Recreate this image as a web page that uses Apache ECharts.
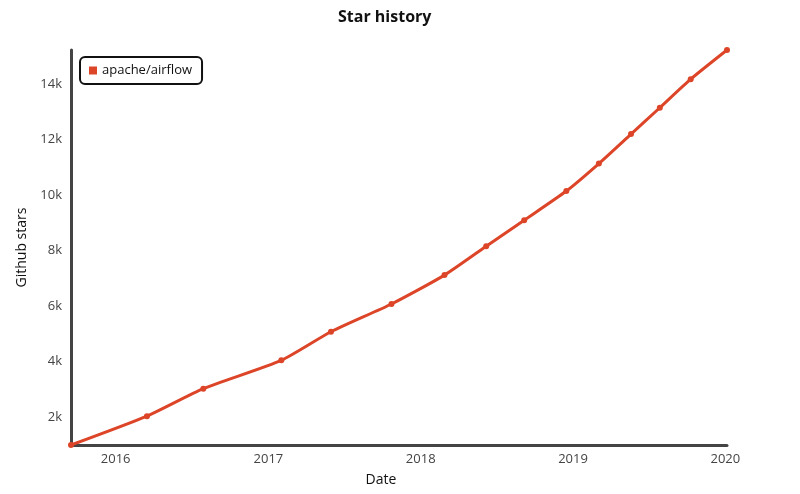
<!DOCTYPE html>
<html>
<head>
<meta charset="utf-8">
<script src="https://cdn.jsdelivr.net/npm/echarts@6/dist/echarts.min.js"></script>
<style>
html,body{margin:0;padding:0;background:#fff;}
#chart{width:800px;height:494px;}
</style>
</head>
<body>
<div id="chart"></div>
<script>
const seriesName = 'apache/airflow';
const dates = ['2015-09-16','2016-03-16','2016-07-29','2017-02-01','2017-05-31','2017-10-23','2018-02-27','2018-06-07','2018-09-06','2018-12-16','2019-03-04','2019-05-20','2019-07-28','2019-10-10','2020-01-05'];
const stars = [1000,2040,3030,4050,5080,6080,7120,8160,9100,10150,11140,12200,13150,14180,15230];
const yTicks = [2000,4000,6000,8000,10000,12000,14000];

const FONT = 'Open Sans';
const chart = echarts.init(document.getElementById('chart'));
const data = dates.map((d,i)=>[d, stars[i]]);
const DAY = 24*3600*1000;
chart.setOption({
  animation:false,
  backgroundColor:'#fff',
  textStyle:{fontFamily:FONT},
  title:{
    text:'Star history', left:333, top:4,
    textStyle:{fontFamily:FONT,fontSize:16,fontWeight:'bold',color:'#111'}
  },
  legend:{
    left:80, top:57, orient:'vertical',
    data:[seriesName],
    icon:'rect', itemWidth:8, itemHeight:8, itemGap:6,
    padding:[7,10,7,9],
    borderColor:'#111', borderWidth:2, borderRadius:5,
    textStyle:{fontFamily:FONT,fontSize:13,color:'#111'}
  },
  grid:{left:71,right:73,top:50,bottom:49,containLabel:false},
  xAxis:{
    type:'time',
    min:dates[0], max:dates[dates.length-1],
    minInterval:365*DAY, maxInterval:366*DAY,
    name:'Date', nameLocation:'middle', nameGap:28,
    nameTextStyle:{fontFamily:FONT,fontSize:14,color:'#111',padding:[0,36,0,0]},
    axisLine:{lineStyle:{color:'#444',width:3}},
    axisTick:{show:false},
    splitLine:{show:false},
    axisLabel:{
      formatter:'{yyyy}', color:'#444', fontSize:13, fontFamily:FONT, margin:8,
      showMinLabel:false, showMaxLabel:false
    }
  },
  yAxis:{
    type:'value',
    min:stars[0], max:stars[stars.length-1],
    interval:1000,
    name:'Github stars', nameLocation:'middle', nameGap:41,
    nameTextStyle:{fontFamily:FONT,fontSize:14,color:'#111'},
    axisLine:{show:true,lineStyle:{color:'#444',width:3}},
    axisTick:{show:false},
    splitLine:{show:false},
    axisLabel:{
      color:'#444', fontSize:13, fontFamily:FONT, margin:9,
      showMinLabel:false, showMaxLabel:false,
      formatter:function(v){ return yTicks.indexOf(v)>=0 ? (v/1000)+'k' : ''; }
    }
  },
  series:[{
    name:seriesName, type:'line', data:data,
    smooth:0.2,
    symbol:'circle', symbolSize:6, showSymbol:true,
    itemStyle:{color:'#dd4528'},
    lineStyle:{color:'#dd4528',width:3}
  }]
});
</script>
</body>
</html>
